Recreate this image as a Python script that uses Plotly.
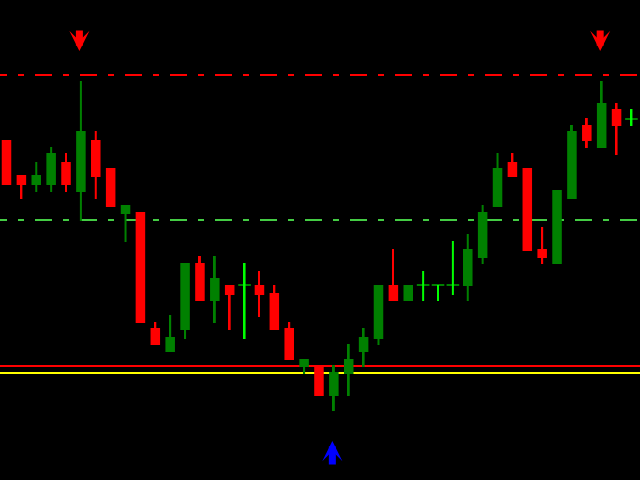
import plotly.graph_objects as go

# ---- data ----
opens  = [1.1340, 1.1305, 1.1295, 1.1295, 1.1318, 1.1288, 1.1340, 1.1312, 1.1266, 1.1268,
          1.1152, 1.1128, 1.1150, 1.1217, 1.1179, 1.1195, 1.1195, 1.1195, 1.1187, 1.1152,
          1.1113, 1.1114, 1.1084, 1.1106, 1.1128, 1.1141, 1.1195, 1.1179, 1.1195, 1.1195,
          1.1195, 1.1194, 1.1222, 1.1273, 1.1318, 1.1312, 1.1231, 1.1216, 1.1281, 1.1355,
          1.1332, 1.1371, 1.1361]
highs  = [1.1340, 1.1305, 1.1318, 1.1333, 1.1327, 1.1399, 1.1349, 1.1312, 1.1275, 1.1268,
          1.1158, 1.1165, 1.1217, 1.1224, 1.1224, 1.1195, 1.1217, 1.1209, 1.1195, 1.1158,
          1.1121, 1.1114, 1.1115, 1.1136, 1.1152, 1.1195, 1.1231, 1.1195, 1.1209, 1.1195,
          1.1239, 1.1246, 1.1275, 1.1327, 1.1327, 1.1312, 1.1253, 1.1290, 1.1355, 1.1362,
          1.1399, 1.1377, 1.1371]
lows   = [1.1295, 1.1281, 1.1288, 1.1288, 1.1288, 1.1259, 1.1281, 1.1273, 1.1238, 1.1157,
          1.1135, 1.1128, 1.1141, 1.1179, 1.1157, 1.1150, 1.1141, 1.1163, 1.1150, 1.1120,
          1.1106, 1.1084, 1.1069, 1.1084, 1.1113, 1.1135, 1.1179, 1.1179, 1.1179, 1.1179,
          1.1185, 1.1179, 1.1216, 1.1273, 1.1303, 1.1229, 1.1216, 1.1216, 1.1281, 1.1332,
          1.1332, 1.1325, 1.1354]
closes = [1.1295, 1.1295, 1.1305, 1.1327, 1.1295, 1.1349, 1.1303, 1.1273, 1.1275, 1.1157,
          1.1135, 1.1143, 1.1217, 1.1179, 1.1202, 1.1185, 1.1195, 1.1185, 1.1150, 1.1120,
          1.1121, 1.1084, 1.1108, 1.1121, 1.1143, 1.1195, 1.1179, 1.1195, 1.1195, 1.1195,
          1.1195, 1.1231, 1.1268, 1.1312, 1.1303, 1.1229, 1.1222, 1.1290, 1.1349, 1.1339,
          1.1377, 1.1354, 1.1361]
thin_wick_bars = [17, 26]

resistance_level = 1.1405     # red dash-dot
mid_level = 1.1260            # green dash-dot
support_red = 1.1114          # red solid
support_yellow = 1.1107       # yellow solid

sell_signal_bars = [5, 40]
sell_signal_prices = [1.1429, 1.1429]
buy_signal_bars = [22]
buy_signal_prices = [1.1039]

# ---- styling ----
BULL = "#008000"
BEAR = "#ff0000"
DOJI = "#00ff00"
BODY_W = 0.64
WICK_W = 0.134
THIN_W = 0.067

n = len(opens)
idx = list(range(n))

def col(i):
    if closes[i] > opens[i]:
        return BULL
    if closes[i] < opens[i]:
        return BEAR
    return DOJI

fig = go.Figure()

# wicks
fig.add_trace(go.Bar(
    x=idx,
    base=lows,
    y=[h - l for h, l in zip(highs, lows)],
    width=[THIN_W if i in thin_wick_bars else WICK_W for i in idx],
    marker=dict(color=[col(i) for i in idx], line=dict(width=0)),
    hoverinfo="skip",
))

# bodies (non-doji)
body_idx = [i for i in idx if opens[i] != closes[i]]
fig.add_trace(go.Bar(
    x=body_idx,
    base=[min(opens[i], closes[i]) for i in body_idx],
    y=[abs(closes[i] - opens[i]) for i in body_idx],
    width=BODY_W,
    marker=dict(color=[col(i) for i in body_idx], line=dict(width=0)),
    hoverinfo="skip",
))

# doji ticks
doji_idx = [i for i in idx if opens[i] == closes[i]]
fig.add_trace(go.Scatter(
    x=doji_idx,
    y=[opens[i] for i in doji_idx],
    mode="markers",
    marker=dict(symbol="line-ew", size=9, line=dict(color=DOJI, width=1)),
    hoverinfo="skip",
))

dash = "17px,11px,6px,11px"
for lvl, c, d in [(resistance_level, "#ff0000", dash),
                  (mid_level, "#44cc44", dash),
                  (support_red, "#ff0000", "solid"),
                  (support_yellow, "#ffff00", "solid")]:
    fig.add_shape(type="line", xref="paper", yref="y", x0=-10 / 640, x1=1.02,
                  y0=lvl, y1=lvl, line=dict(color=c, width=2, dash=d), layer="below")

for b, p in zip(sell_signal_bars, sell_signal_prices):
    fig.add_annotation(x=b, y=p, xref="x", yref="y", ax=0, ay=-22, text="",
                       showarrow=True, arrowhead=3, arrowsize=0.48, arrowwidth=7,
                       arrowcolor="#ff0000", xshift=-1.5)
for b, p in zip(buy_signal_bars, buy_signal_prices):
    fig.add_annotation(x=b, y=p, xref="x", yref="y", ax=0, ay=25, text="",
                       showarrow=True, arrowhead=3, arrowsize=0.48, arrowwidth=7,
                       arrowcolor="#0000ff", xshift=-1.5)

fig.update_layout(
    width=640, height=480,
    margin=dict(l=0, r=0, t=0, b=0),
    paper_bgcolor="#000000", plot_bgcolor="#000000",
    barmode="overlay", showlegend=False,
    xaxis=dict(visible=False, range=[-0.437, 42.575], fixedrange=True),
    yaxis=dict(visible=False, range=[1.1000, 1.1480], fixedrange=True),
)

fig.write_html("out.html", config={"displayModeBar": False},
               post_script="document.body.style.margin='0';document.body.style.padding='0';")
